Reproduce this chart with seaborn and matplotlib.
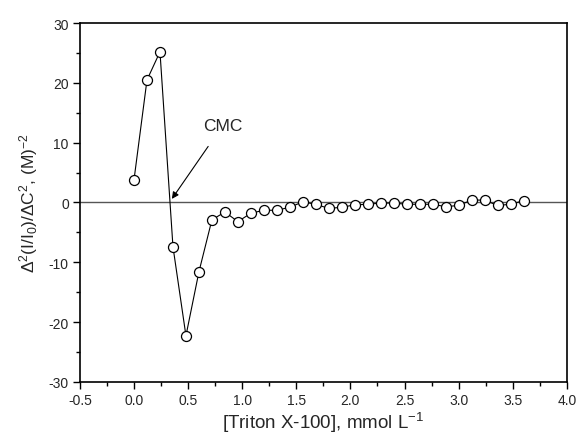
import numpy as np
import pandas as pd
import seaborn as sns
import matplotlib.pyplot as plt
from matplotlib.ticker import MultipleLocator

# data
conc = [0.00, 0.12, 0.24, 0.36, 0.48, 0.60, 0.72, 0.84, 0.96, 1.08, 1.20,
        1.32, 1.44, 1.56, 1.68, 1.80, 1.92, 2.04, 2.16, 2.28, 2.40, 2.52,
        2.64, 2.76, 2.88, 3.00, 3.12, 3.24, 3.36, 3.48, 3.60]
d2 = [3.8, 20.5, 25.2, -7.4, -22.3, -11.6, -2.9, -1.6, -3.2, -1.8, -1.3,
      -1.3, -0.8, 0.1, -0.3, -1.0, -0.8, -0.4, -0.3, -0.1, -0.1, -0.3,
      -0.3, -0.3, -0.7, -0.5, 0.4, 0.4, -0.5, -0.3, 0.3]
cmc_x = 0.35

df = pd.DataFrame({"conc": conc, "d2": d2})

sns.set_style("ticks")
plt.rcParams['font.family'] = ['Liberation Sans', 'DejaVu Sans']
plt.rcParams['mathtext.default'] = 'regular'
plt.rcParams['axes.unicode_minus'] = False

fig = plt.figure(figsize=(5.79, 4.39), dpi=100)
ax = fig.add_axes([0.138, 0.128, 0.841, 0.817])

ax.axhline(0, color='#555555', lw=1.0, zorder=1)
sns.lineplot(data=df, x="conc", y="d2", ax=ax, color='black', lw=0.8,
             marker='o', markersize=7.2, markerfacecolor='white',
             markeredgecolor='black', markeredgewidth=0.9, zorder=3)

ax.annotate("CMC", xy=(cmc_x, 0.6), xytext=(0.82, 12.9),
            ha='center', va='center', fontsize=12.5,
            arrowprops=dict(arrowstyle='-|>', color='black', lw=0.8,
                            mutation_scale=10, shrinkA=9, shrinkB=0))

ax.set_xlim(-0.5, 4.0)
ax.set_ylim(-30, 30)
ax.xaxis.set_major_locator(MultipleLocator(0.5))
ax.xaxis.set_minor_locator(MultipleLocator(0.25))
ax.yaxis.set_major_locator(MultipleLocator(10))
ax.yaxis.set_minor_locator(MultipleLocator(5))
ax.xaxis.set_major_formatter(plt.FormatStrFormatter('%.1f'))
ax.tick_params(which='major', direction='out', length=5, width=1, labelsize=10, color='black', pad=3)
ax.tick_params(which='minor', direction='out', length=3, width=1, color='black')
for s in ax.spines.values():
    s.set_color('black')
    s.set_linewidth(1.2)

ax.set_xlabel('[Triton X-100], mmol L$^{-1}$', fontsize=13.5, labelpad=2)
ax.set_ylabel(r'$\Delta^2$(I/I$_0$)/$\Delta$C$^2$, (M)$^{-2}$', fontsize=12.5, labelpad=6)

fig.savefig("out.png", dpi=100)
